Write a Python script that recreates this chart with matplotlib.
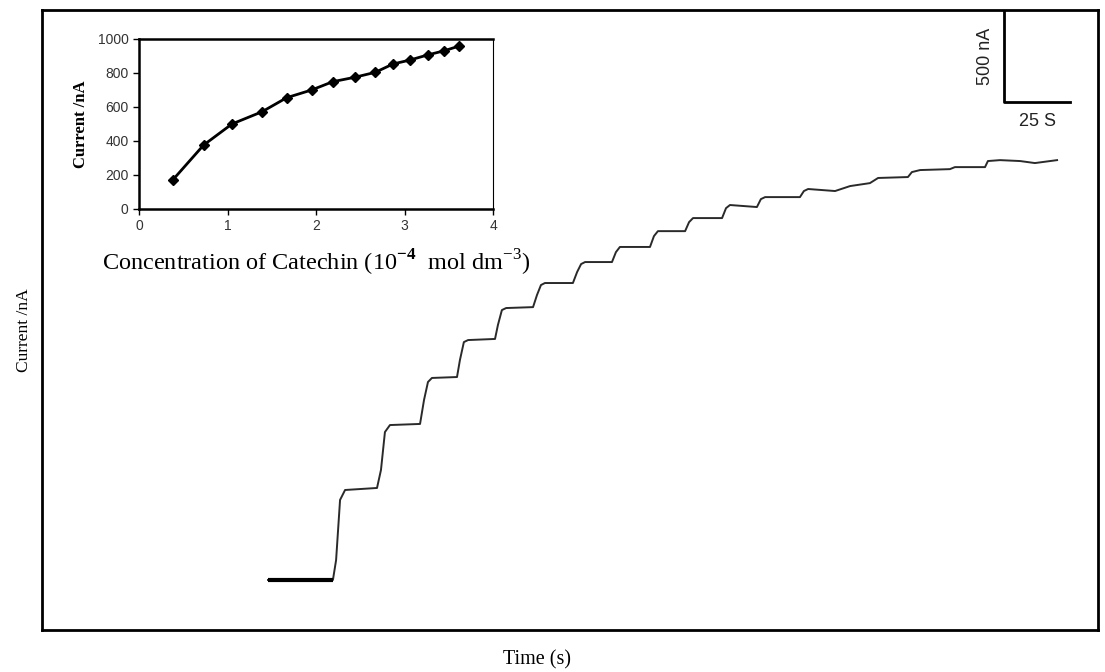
import matplotlib
matplotlib.use("Agg")
import matplotlib.pyplot as plt

plt.rcParams['mathtext.fontset'] = 'custom'
plt.rcParams['mathtext.rm'] = 'Liberation Serif'
plt.rcParams['mathtext.bf'] = 'Liberation Serif:bold'

# amperometric trace (time in s, current in nA), vertices
trace_t = [85.6, 110.2, 111.4, 112.9, 114.8, 126.9, 128.4, 129.9, 131.8, 143.2,
           144.7, 146.2, 147.7, 157.2, 158.3, 159.8, 161.4, 171.6, 172.7, 174.2,
           175.8, 186.0, 187.5, 189.0, 190.5, 201.1, 202.7, 204.2, 205.7, 215.9,
           217.4, 218.9, 230.3, 231.8, 233.3, 243.6, 245.1, 246.6, 257.6, 259.1,
           260.6, 270.8, 272.3, 273.9, 287.1, 288.6, 290.2, 300.4, 306.1, 313.6,
           316.7, 328.0, 329.5, 332.6, 343.9, 345.8, 357.2, 358.3, 362.9, 370.5,
           376.1, 384.5]
trace_i = [272, 272, 380, 707, 761, 772, 870, 1076, 1114, 1120,
           1250, 1348, 1370, 1375, 1467, 1565, 1576, 1582, 1658, 1739,
           1750, 1755, 1821, 1875, 1886, 1886, 1946, 1989, 2000, 2000,
           2054, 2082, 2082, 2141, 2168, 2168, 2217, 2239, 2239, 2293,
           2310, 2299, 2342, 2353, 2353, 2386, 2397, 2386, 2413, 2429,
           2457, 2462, 2489, 2500, 2505, 2516, 2516, 2549, 2554, 2549,
           2538, 2554]

# calibration plot
conc = [0.38, 0.73, 1.05, 1.39, 1.67, 1.95, 2.19, 2.44, 2.67, 2.87, 3.06, 3.26, 3.45, 3.62]
current = [170, 376, 500, 572, 655, 700, 749, 775, 804, 853, 876, 906, 931, 959]

# scale bar: 500 nA by 25 s
bar_t0, bar_i0 = 364.4, 2870
bar_di, bar_dt = 500, 25

fig = plt.figure(figsize=(11.05, 6.72), dpi=100)
ax = fig.add_axes([42 / 1105, 1 - 630 / 672, 1056 / 1105, 620 / 672])
ax.plot(trace_t, trace_i, color='#2a2a2a', lw=1.4)
ax.plot(trace_t[:2], trace_i[:2], color='black', lw=3, solid_capstyle='butt')
ax.plot([bar_t0, bar_t0, bar_t0 + bar_dt], [bar_i0 + bar_di, bar_i0, bar_i0],
        color='black', lw=2)
ax.text(bar_t0 - 7, bar_i0 + bar_di / 2, '500 nA', rotation=90, ha='center', va='center',
        fontsize=13, family='Liberation Sans', color='#222')
ax.text(bar_t0 + bar_dt / 2, bar_i0 - 60, '25 S', ha='center', va='top',
        fontsize=13, family='Liberation Sans', color='#222')
ax.set_xlim(0, 400)
ax.set_ylim(0, 3370)
ax.set_xticks([])
ax.set_yticks([])
for s in ax.spines.values():
    s.set_linewidth(2)
ax.set_xlabel('Time (s)', family='Liberation Serif', fontsize=14.5, labelpad=12)
ax.xaxis.set_label_coords(0.469, -0.032, transform=ax.transAxes)
ax.set_ylabel('Current /nA', family='Liberation Serif', fontsize=12.5)
ax.yaxis.set_label_coords(-0.009, 0.483)

ins = fig.add_axes([139 / 1105, 1 - 209 / 672, 354 / 1105, 170 / 672])
ins.plot(conc, current, color='black', lw=2, marker='D', ms=5)
ins.set_xlim(0, 4)
ins.set_ylim(0, 1000)
ins.set_xticks([0, 1, 2, 3, 4])
ins.set_yticks(range(0, 1001, 200))
ins.tick_params(labelsize=10, length=4, direction='out', width=1)
for lab in ins.get_xticklabels() + ins.get_yticklabels():
    lab.set_family('Liberation Sans')
    lab.set_color('#333')
ins.spines['left'].set_linewidth(1.8)
ins.spines['bottom'].set_linewidth(1.8)
ins.spines['top'].set_linewidth(1.8)
ins.spines['right'].set_linewidth(0.8)
ins.set_ylabel('Current /nA', family='Liberation Serif', fontsize=12, fontweight='bold',
               labelpad=6)
ins.set_xlabel(r'Concentration of Catechin (10$^{\mathbf{-4}}$  mol dm$^{-3}$)',
               family='Liberation Serif', fontsize=17.5, labelpad=10)

fig.savefig('out.png', dpi=100)
